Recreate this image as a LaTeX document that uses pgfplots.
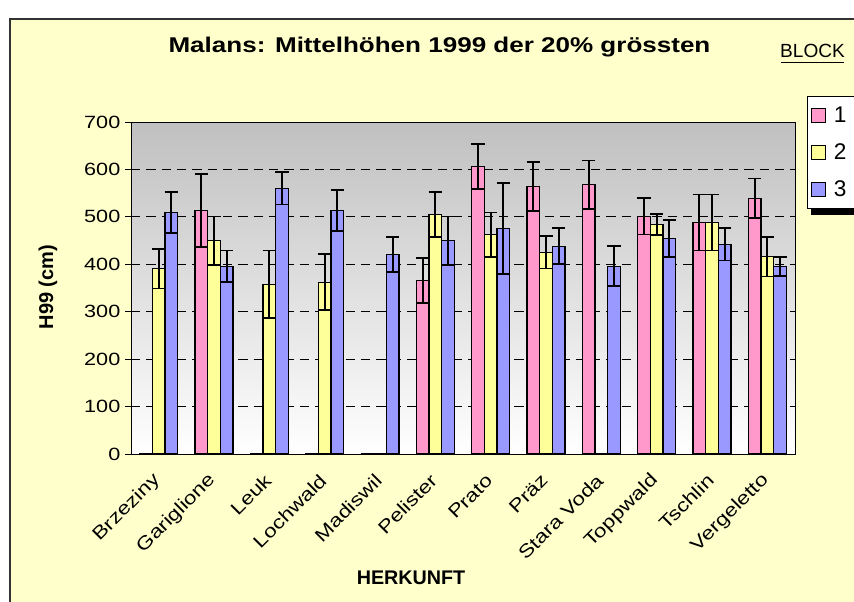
\documentclass[border=0pt]{standalone}
\usepackage{fontspec}
\setmainfont{Liberation Sans}[FakeStretch=1.22]
\newfontfamily\plainsans{Liberation Sans}
\usepackage{pgfplots}
\usepackage{pgfplotstable}
\pgfplotsset{compat=1.18}
\definecolor{bgyellow}{HTML}{FFFFCC}
\definecolor{bpink}{HTML}{FF99CC}
\definecolor{byellow}{HTML}{FFFF99}
\definecolor{bblue}{HTML}{9999FF}
\definecolor{pgray}{HTML}{C0C0C0}

\pgfplotstableread{
x v1 e1 v2 e2 v3 e3
0 0 0 391 42 509 43
1 513 77 450 51 396 33
2 0 0 358 71 560 34
3 0 0 362 59 513 43
4 0 0 0 0 421 37
5 366 47 505 47 450 51
6 606 47 462 47 476 96
7 564 51 425 34 438 38
8 568 51 0 0 396 42
9 501 38 484 22 454 39
10 488 59 488 59 442 34
11 539 42 416 42 396 20
}\datatable

\begin{document}
\begin{tikzpicture}[x=0.75pt,y=0.75pt]
\useasboundingbox (0,0) rectangle (854,601);
\fill[white] (0,0) rectangle (854,601);
\draw[fill=bgyellow, line width=0.8pt, draw=black!80] (10,582) rectangle (880,-20);
% legend shadow
\fill[black] (811,392) rectangle (870,386);
\begin{axis}[
  at={(98.25pt,110.25pt)}, anchor=south west,
  scale only axis, width=498pt, height=249pt,
  ybar=0pt, bar width=9.5pt,
  xmin=-0.5, xmax=11.5, ymin=0, ymax=700,
  ytick={0,100,...,700},
  xtick={0,...,11},
  xticklabels={Brzeziny,Gariglione,Leuk,Lochwald,Madiswil,Pelister,Prato,Präz,Stara Voda,Toppwald,Tschlin,Vergeletto},
  xtick style={draw=none},
  tick align=outside, ytick pos=left,
  major tick length=4.5pt,
  ytick style={black, line width=0.75pt},
  axis line style={black, line width=0.75pt},
  axis background/.style={top color=pgray, bottom color=white},
  ymajorgrids,
  grid style={black, dash pattern=on 7pt off 4.5pt, line width=0.7pt},
  /pgf/number format/assume math mode=true,
  ticklabel style={font=\fontsize{13.3}{15}\selectfont},
  yticklabel style={anchor=east},
  xticklabel style={inner sep=0pt, yshift=-13pt, xshift=-1pt, rotate=45, anchor=east, font=\fontsize{13.8}{15}\selectfont},
  ylabel={H99 (cm)},
  ylabel style={at={(rel axis cs:-0.125,0.503)}, anchor=center, rotate=0, font=\plainsans\bfseries\fontsize{15}{17}\selectfont},
  xlabel={HERKUNFT},
  xlabel style={at={(rel axis cs:0.4217,-0.3735)}, anchor=center, font=\plainsans\bfseries\fontsize{14.8}{17}\selectfont},
  error bars/y dir=both,
  error bars/y explicit,
  error bars/error bar style={black, line width=1.3pt},
  error bars/error mark options={black, line width=1.3pt, mark size=5pt, rotate=90},
  legend image code/.code={\draw[#1, line width=0.75pt] (0pt,-5pt) rectangle (10pt,5pt);},
  legend style={at={(rel axis cs:1.018,1.078)}, anchor=north west, draw=black, fill=white,
    line width=0.75pt,
    font=\plainsans\fontsize{17}{18}\selectfont, row sep=10.5pt, inner xsep=3pt, inner ysep=5.5pt},
  legend cell align=left,
]
\addplot[fill=bpink, draw=black, line width=0.9pt] table[x=x, y=v1, y error=e1] {\datatable};
\addlegendentry{\hspace*{4pt}1\hspace*{8pt}}
\addplot[fill=byellow, draw=black, line width=0.9pt] table[x=x, y=v2, y error=e2] {\datatable};
\addlegendentry{\hspace*{4pt}2\hspace*{8pt}}
\addplot[fill=bblue, draw=black, line width=0.9pt] table[x=x, y=v3, y error=e3] {\datatable};
\addlegendentry{\hspace*{4pt}3\hspace*{8pt}}
\end{axis}
\node[anchor=base, font=\bfseries\fontsize{16}{19}\selectfont] at (439.5,548) {Malans: Mittelhöhen 1999 der 20\% grössten};
\node[anchor=base, font=\plainsans\fontsize{14.3}{17}\selectfont, inner sep=0pt] at (812.5,543.3) {BLOCK};
\draw[line width=0.9pt] (781,538.3) -- (844,538.3);
\end{tikzpicture}
\end{document}
